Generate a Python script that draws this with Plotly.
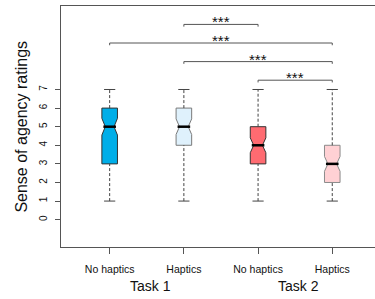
import plotly.graph_objects as go

# ---- data ----
positions = [1, 2, 3, 4]
conditions = ["No haptics", "Haptics", "No haptics", "Haptics"]
tasks = ["Task 1", "Task 2"]
task_positions = [1.55, 3.55]
mins = [1, 1, 1, 1]
q1s = [3, 4, 3, 2]
medians = [5, 5, 4, 3]
q3s = [6, 6, 5, 4]
maxs = [7, 7, 7, 7]
notch_spans = [0.45, 0.42, 0.4, 0.4]
fill_colors = ["#00AEE8", "#DFF1FC", "#FF6B71", "#FFD1D4"]
edge_colors = ["#333333", "#7a7a7a", "#333333", "#8a8a8a"]
y_ticks = [0, 1, 2, 3, 4, 5, 6, 7]
# significance brackets: (from position, to position, height, label)
brackets = [(2, 3, 10.5, "***"), (1, 4, 9.5, "***"), (2, 4, 8.5, "***"), (3, 4, 7.5, "***")]

FONT = "Liberation Sans, Arial, sans-serif"
AX = "#555555"

fig = go.Figure()

# dashed whiskers + caps
for i, p in enumerate(positions):
    fig.add_trace(go.Scatter(
        x=[p, p, None, p, p], y=[mins[i], q1s[i], None, q3s[i], maxs[i]],
        mode="lines", line=dict(color="#444444", width=1, dash="3px,2px"),
        hoverinfo="skip", showlegend=False))
    fig.add_trace(go.Scatter(
        x=[p, p], y=[mins[i], maxs[i]], mode="markers",
        marker=dict(symbol="line-ew", size=8, line=dict(color="#444444", width=1)),
        hoverinfo="skip", showlegend=False))

# notched boxes
for i, p in enumerate(positions):
    fig.add_trace(go.Box(
        x=[p], q1=[q1s[i]], median=[medians[i]], q3=[q3s[i]],
        lowerfence=[q1s[i]], upperfence=[q3s[i]],
        notched=True, notchspan=[notch_spans[i]], notchwidth=0.22,
        width=0.21, whiskerwidth=0,
        fillcolor=fill_colors[i], line=dict(color=edge_colors[i], width=1),
        boxpoints=False, showlegend=False, hoverinfo="skip"))

# thick median bars
fig.add_trace(go.Scatter(
    x=positions, y=medians, mode="markers",
    marker=dict(symbol="line-ew", size=9, line=dict(color="black", width=2.5)),
    hoverinfo="skip", showlegend=False))

# significance brackets
for a, b, h, lab in brackets:
    fig.add_trace(go.Scatter(
        x=[a, a, b, b], y=[h - 0.12, h, h, h - 0.12], mode="lines",
        line=dict(color="#555555", width=1), hoverinfo="skip", showlegend=False))
    fig.add_annotation(x=(a + b) / 2, y=h, text=lab, showarrow=False,
                       yanchor="bottom", yshift=-8,
                       font=dict(family=FONT, size=15, color="#111111"))

# group labels
for t, tp in zip(tasks, task_positions):
    fig.add_annotation(x=tp, y=-0.163, xref="x", yref="paper", text=t,
                       showarrow=False, yanchor="middle",
                       font=dict(family=FONT, size=14, color="#111111"))

# y-axis title
fig.add_annotation(x=-0.127, y=0.5, xref="paper", yref="paper",
                   xanchor="center", yanchor="middle",
                   text="Sense of agency ratings", textangle=-90, showarrow=False,
                   font=dict(family=FONT, size=16, color="#111111"))

fig.update_xaxes(range=[0.344, 4.576], tickvals=positions, ticktext=conditions,
                 showline=True, linecolor=AX, linewidth=1, mirror=True,
                 ticks="outside", ticklen=6, tickcolor=AX, showgrid=False,
                 zeroline=False, ticklabelstandoff=6, automargin=False,
                 tickfont=dict(family=FONT, size=10.5, color="#111111"))
fig.update_yaxes(range=[-1.47, 11.49], tickvals=y_ticks,
                 showline=True, linecolor=AX, linewidth=1,
                 ticks="outside", ticklen=5, tickcolor=AX, showgrid=False,
                 zeroline=False, tickangle=-90, ticklabelstandoff=4, automargin=False,
                 tickfont=dict(family=FONT, size=10, color="#111111"))

fig.update_layout(width=375, height=299, margin=dict(l=61, r=0, t=6, b=52),
                  plot_bgcolor="white", paper_bgcolor="white", boxgap=0)

fig.write_html("out.html", config={"displayModeBar": False},
               post_script="document.body.style.margin='0px';document.body.style.overflow='hidden';")
